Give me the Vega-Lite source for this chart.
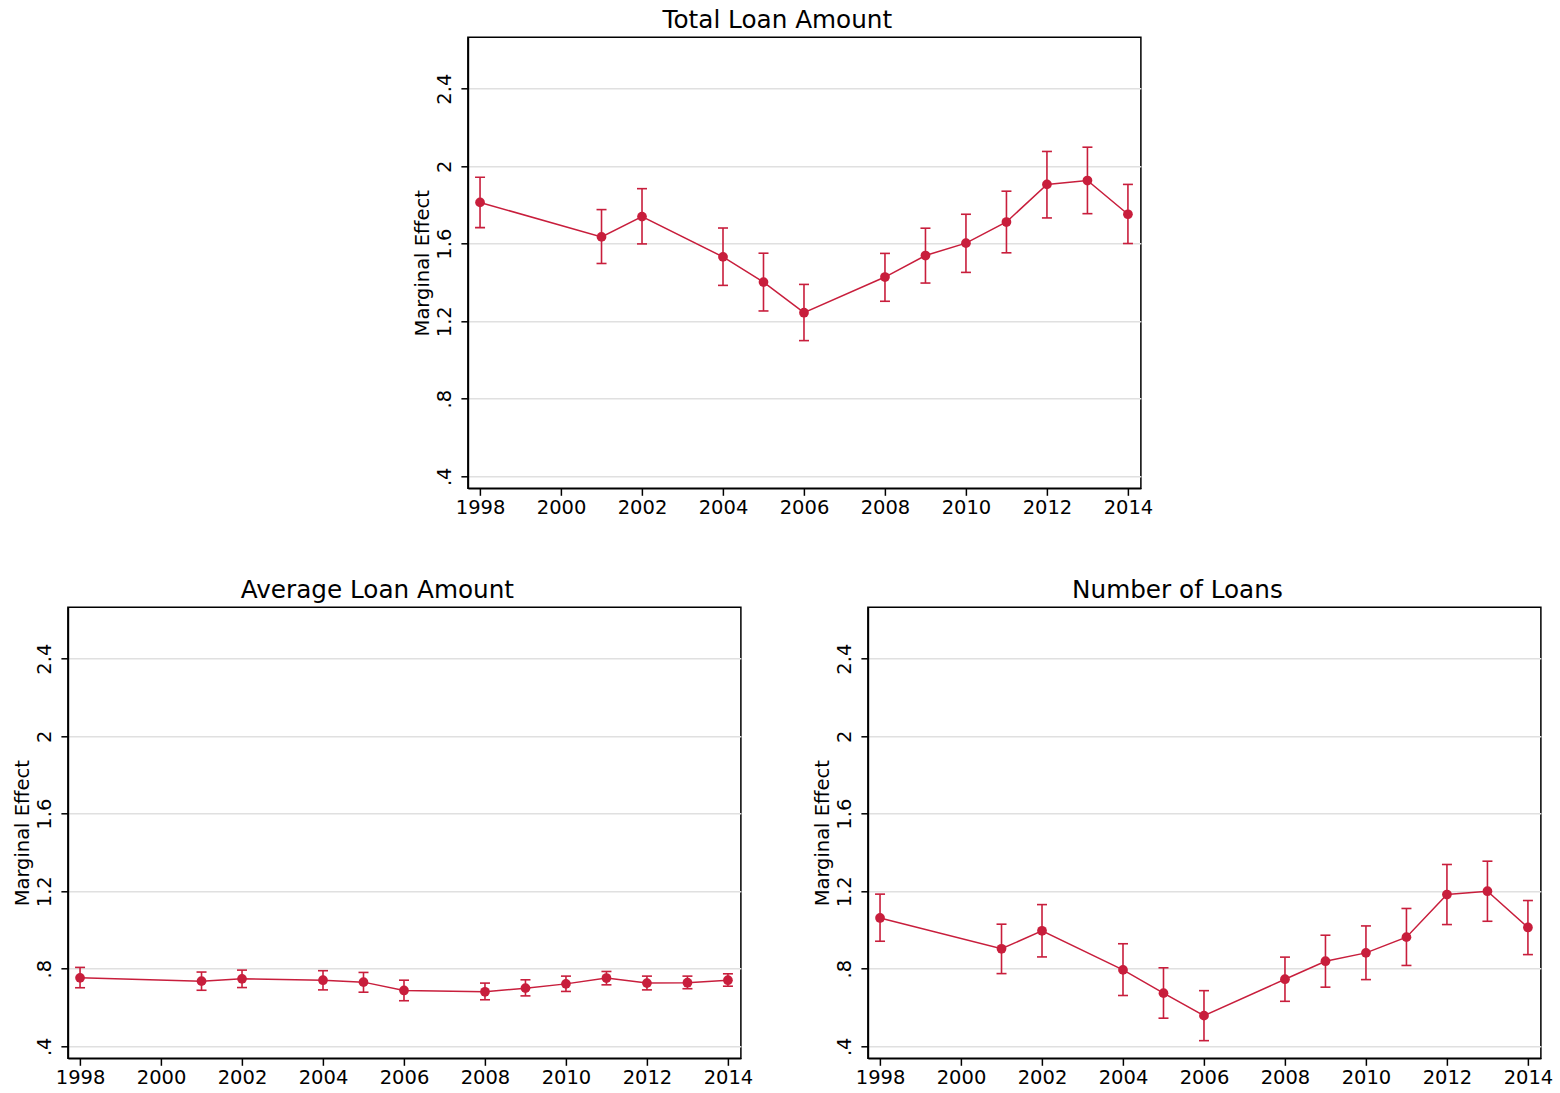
{
  "$schema": "https://vega.github.io/schema/vega-lite/v6.json",
  "autosize": {"type": "pad"},
  "padding": {"left": 11.7, "top": 6.3, "right": 5, "bottom": 5},
  "background": "white",
  "data": {"values": [
    {"panel": "Total Loan Amount", "year": 1998, "est": 1.813, "lo": 1.683, "hi": 1.943},
    {"panel": "Total Loan Amount", "year": 2001, "est": 1.635, "lo": 1.498, "hi": 1.776},
    {"panel": "Total Loan Amount", "year": 2002, "est": 1.740, "lo": 1.599, "hi": 1.884},
    {"panel": "Total Loan Amount", "year": 2004, "est": 1.532, "lo": 1.385, "hi": 1.681},
    {"panel": "Total Loan Amount", "year": 2005, "est": 1.402, "lo": 1.253, "hi": 1.551},
    {"panel": "Total Loan Amount", "year": 2006, "est": 1.244, "lo": 1.100, "hi": 1.390},
    {"panel": "Total Loan Amount", "year": 2008, "est": 1.428, "lo": 1.303, "hi": 1.550},
    {"panel": "Total Loan Amount", "year": 2009, "est": 1.539, "lo": 1.397, "hi": 1.680},
    {"panel": "Total Loan Amount", "year": 2010, "est": 1.603, "lo": 1.452, "hi": 1.752},
    {"panel": "Total Loan Amount", "year": 2011, "est": 1.712, "lo": 1.553, "hi": 1.871},
    {"panel": "Total Loan Amount", "year": 2012, "est": 1.906, "lo": 1.733, "hi": 2.076},
    {"panel": "Total Loan Amount", "year": 2013, "est": 1.926, "lo": 1.755, "hi": 2.098},
    {"panel": "Total Loan Amount", "year": 2014, "est": 1.752, "lo": 1.601, "hi": 1.906},
    {"panel": "Average Loan Amount", "year": 1998, "est": 0.753, "lo": 0.702, "hi": 0.807},
    {"panel": "Average Loan Amount", "year": 2001, "est": 0.736, "lo": 0.689, "hi": 0.783},
    {"panel": "Average Loan Amount", "year": 2002, "est": 0.748, "lo": 0.703, "hi": 0.793},
    {"panel": "Average Loan Amount", "year": 2004, "est": 0.741, "lo": 0.691, "hi": 0.790},
    {"panel": "Average Loan Amount", "year": 2005, "est": 0.731, "lo": 0.679, "hi": 0.781},
    {"panel": "Average Loan Amount", "year": 2006, "est": 0.688, "lo": 0.635, "hi": 0.741},
    {"panel": "Average Loan Amount", "year": 2008, "est": 0.681, "lo": 0.640, "hi": 0.726},
    {"panel": "Average Loan Amount", "year": 2009, "est": 0.700, "lo": 0.660, "hi": 0.743},
    {"panel": "Average Loan Amount", "year": 2010, "est": 0.722, "lo": 0.683, "hi": 0.762},
    {"panel": "Average Loan Amount", "year": 2011, "est": 0.752, "lo": 0.717, "hi": 0.786},
    {"panel": "Average Loan Amount", "year": 2012, "est": 0.726, "lo": 0.691, "hi": 0.762},
    {"panel": "Average Loan Amount", "year": 2013, "est": 0.728, "lo": 0.697, "hi": 0.762},
    {"panel": "Average Loan Amount", "year": 2014, "est": 0.741, "lo": 0.710, "hi": 0.774},
    {"panel": "Number of Loans", "year": 1998, "est": 1.062, "lo": 0.942, "hi": 1.185},
    {"panel": "Number of Loans", "year": 2001, "est": 0.903, "lo": 0.775, "hi": 1.030},
    {"panel": "Number of Loans", "year": 2002, "est": 0.996, "lo": 0.861, "hi": 1.131},
    {"panel": "Number of Loans", "year": 2004, "est": 0.794, "lo": 0.662, "hi": 0.929},
    {"panel": "Number of Loans", "year": 2005, "est": 0.674, "lo": 0.545, "hi": 0.805},
    {"panel": "Number of Loans", "year": 2006, "est": 0.558, "lo": 0.429, "hi": 0.687},
    {"panel": "Number of Loans", "year": 2008, "est": 0.746, "lo": 0.632, "hi": 0.860},
    {"panel": "Number of Loans", "year": 2009, "est": 0.839, "lo": 0.705, "hi": 0.973},
    {"panel": "Number of Loans", "year": 2010, "est": 0.882, "lo": 0.744, "hi": 1.021},
    {"panel": "Number of Loans", "year": 2011, "est": 0.963, "lo": 0.817, "hi": 1.111},
    {"panel": "Number of Loans", "year": 2012, "est": 1.183, "lo": 1.028, "hi": 1.338},
    {"panel": "Number of Loans", "year": 2013, "est": 1.200, "lo": 1.045, "hi": 1.355},
    {"panel": "Number of Loans", "year": 2014, "est": 1.013, "lo": 0.873, "hi": 1.152}
  ]},
  "vconcat": [
    {
      "title": "Total Loan Amount",
      "width": 673, "height": 451,
      "transform": [{"filter": "datum.panel === 'Total Loan Amount'"}],
      "encoding": {"x": {"field": "year", "type": "quantitative", "scale": {"domain": [1997.7, 2014.32], "nice": false, "zero": false}, "axis": {"values": [1998, 2000, 2002, 2004, 2006, 2008, 2010, 2012, 2014], "format": "d", "title": null}}},
      "layer": [
        {"mark": {"type": "line", "color": "#c81e3c", "strokeWidth": 1.5}, "encoding": {"y": {"field": "est", "type": "quantitative", "title": "Marginal Effect", "scale": {"domain": [0.338, 2.665], "nice": false, "zero": false}, "axis": {"values": [0.4, 0.8, 1.2, 1.6, 2, 2.4], "labelExpr": "datum.value < 1 ? substring(format(datum.value, '.1f'), 1) : format(datum.value, '~g')"}}}},
        {"mark": {"type": "rule", "color": "#c81e3c", "strokeWidth": 1.6}, "encoding": {"y": {"field": "lo", "type": "quantitative", "title": "Marginal Effect"}, "y2": {"field": "hi"}}},
        {"mark": {"type": "tick", "orient": "horizontal", "color": "#c81e3c", "size": 10, "thickness": 1.6, "opacity": 1}, "encoding": {"y": {"field": "lo", "type": "quantitative", "title": "Marginal Effect"}}},
        {"mark": {"type": "tick", "orient": "horizontal", "color": "#c81e3c", "size": 10, "thickness": 1.6, "opacity": 1}, "encoding": {"y": {"field": "hi", "type": "quantitative", "title": "Marginal Effect"}}},
        {"mark": {"type": "point", "filled": true, "color": "#c81e3c", "size": 95, "opacity": 1}, "encoding": {"y": {"field": "est", "type": "quantitative", "title": "Marginal Effect"}}}
      ]
    },
    {
      "hconcat": [
        {
          "title": "Average Loan Amount",
          "width": 673, "height": 451,
          "transform": [{"filter": "datum.panel === 'Average Loan Amount'"}],
          "encoding": {"x": {"field": "year", "type": "quantitative", "scale": {"domain": [1997.7, 2014.32], "nice": false, "zero": false}, "axis": {"values": [1998, 2000, 2002, 2004, 2006, 2008, 2010, 2012, 2014], "format": "d", "title": null}}},
          "layer": [
            {"mark": {"type": "line", "color": "#c81e3c", "strokeWidth": 1.5}, "encoding": {"y": {"field": "est", "type": "quantitative", "title": "Marginal Effect", "scale": {"domain": [0.338, 2.665], "nice": false, "zero": false}, "axis": {"values": [0.4, 0.8, 1.2, 1.6, 2, 2.4], "labelExpr": "datum.value < 1 ? substring(format(datum.value, '.1f'), 1) : format(datum.value, '~g')"}}}},
            {"mark": {"type": "rule", "color": "#c81e3c", "strokeWidth": 1.6}, "encoding": {"y": {"field": "lo", "type": "quantitative", "title": "Marginal Effect"}, "y2": {"field": "hi"}}},
            {"mark": {"type": "tick", "orient": "horizontal", "color": "#c81e3c", "size": 10, "thickness": 1.6, "opacity": 1}, "encoding": {"y": {"field": "lo", "type": "quantitative", "title": "Marginal Effect"}}},
            {"mark": {"type": "tick", "orient": "horizontal", "color": "#c81e3c", "size": 10, "thickness": 1.6, "opacity": 1}, "encoding": {"y": {"field": "hi", "type": "quantitative", "title": "Marginal Effect"}}},
            {"mark": {"type": "point", "filled": true, "color": "#c81e3c", "size": 95, "opacity": 1}, "encoding": {"y": {"field": "est", "type": "quantitative", "title": "Marginal Effect"}}}
          ]
        },
        {
          "title": "Number of Loans",
          "width": 673, "height": 451,
          "transform": [{"filter": "datum.panel === 'Number of Loans'"}],
          "encoding": {"x": {"field": "year", "type": "quantitative", "scale": {"domain": [1997.7, 2014.32], "nice": false, "zero": false}, "axis": {"values": [1998, 2000, 2002, 2004, 2006, 2008, 2010, 2012, 2014], "format": "d", "title": null}}},
          "layer": [
            {"mark": {"type": "line", "color": "#c81e3c", "strokeWidth": 1.5}, "encoding": {"y": {"field": "est", "type": "quantitative", "title": "Marginal Effect", "scale": {"domain": [0.338, 2.665], "nice": false, "zero": false}, "axis": {"values": [0.4, 0.8, 1.2, 1.6, 2, 2.4], "labelExpr": "datum.value < 1 ? substring(format(datum.value, '.1f'), 1) : format(datum.value, '~g')"}}}},
            {"mark": {"type": "rule", "color": "#c81e3c", "strokeWidth": 1.6}, "encoding": {"y": {"field": "lo", "type": "quantitative", "title": "Marginal Effect"}, "y2": {"field": "hi"}}},
            {"mark": {"type": "tick", "orient": "horizontal", "color": "#c81e3c", "size": 10, "thickness": 1.6, "opacity": 1}, "encoding": {"y": {"field": "lo", "type": "quantitative", "title": "Marginal Effect"}}},
            {"mark": {"type": "tick", "orient": "horizontal", "color": "#c81e3c", "size": 10, "thickness": 1.6, "opacity": 1}, "encoding": {"y": {"field": "hi", "type": "quantitative", "title": "Marginal Effect"}}},
            {"mark": {"type": "point", "filled": true, "color": "#c81e3c", "size": 95, "opacity": 1}, "encoding": {"y": {"field": "est", "type": "quantitative", "title": "Marginal Effect"}}}
          ]
        }
      ],
      "spacing": 58
    }
  ],
  "spacing": 58,
  "center": true,
  "config": {
    "font": "DejaVu Sans",
    "view": {"stroke": "black", "strokeWidth": 1.5},
    "axis": {"labelFont": "DejaVu Sans", "labelFontSize": 19.5, "labelColor": "black", "titleFont": "DejaVu Sans", "titleFontSize": 19.5, "titleFontWeight": "normal", "titleColor": "black", "domainColor": "black", "domainWidth": 1.6, "tickColor": "black", "tickWidth": 1.5, "tickSize": 7},
    "axisX": {"grid": false, "labelPadding": 3, "labelFlush": false},
    "axisY": {"grid": true, "gridColor": "#e0e0e0", "gridWidth": 1.5, "labelAngle": 270, "labelAlign": "center", "labelBaseline": "bottom", "labelPadding": 6, "titlePadding": 2, "labelFlush": false},
    "title": {"font": "DejaVu Sans", "fontSize": 24.7, "fontWeight": "normal", "color": "black", "anchor": "middle", "frame": "group", "dx": -27, "offset": 5, "baseline": "alphabetic"}
  }
}
